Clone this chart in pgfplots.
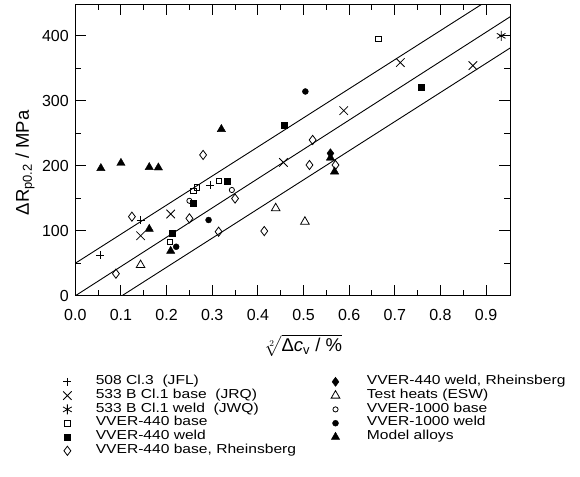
\documentclass[border=0pt]{standalone}
\usepackage{amsmath}
\usepackage{fontspec}
\setmainfont{Liberation Sans}
\newfontfamily\legendfont[FakeStretch=1.2]{Liberation Sans}
\usepackage{pgfplots}
\pgfplotsset{compat=1.18}
\begin{document}
\begin{tikzpicture}
\useasboundingbox (-75.3pt,-180.2pt) rectangle (504.7pt,295.8pt);
\begin{axis}[
  scale only axis, width=435pt, height=291.5pt,
  at={(0pt,0pt)}, anchor=south west,
  xmin=0, xmax=0.953, ymin=0, ymax=448,
  xtick={0,0.1,0.2,0.3,0.4,0.5,0.6,0.7,0.8,0.9},
  xticklabels={0.0,0.1,0.2,0.3,0.4,0.5,0.6,0.7,0.8,0.9},
  ytick={0,100,200,300,400},
  minor x tick num=1, minor y tick num=1,
  tick align=inside, major tick length=11pt, minor tick length=6pt,
  tick style={line width=1pt, black},
  axis line style={line width=1.2pt},
  /pgf/number format/assume math mode=true,
  tick label style={font=\fontsize{16}{16}\selectfont},
  xticklabel style={yshift=-10pt},
  yticklabel style={xshift=-3pt},
  xlabel={$\sqrt[\uproot{-3}2]{\mbox{Δ\textit{c}\textsubscript{v} / \%}}$},
  xlabel style={at={(axis description cs:0.524,-0.17)}, anchor=center, inner sep=0pt, font=\fontsize{18.5}{18.5}\selectfont},
  ylabel={ΔR\textsubscript{p0.2} / MPa},
  ylabel style={at={(axis description cs:-0.1157,0.456)}, anchor=center, font=\fontsize{18.5}{18.5}\selectfont},
  legend columns=2,
  legend cell align=left,
  legend image code/.code={\path (-5pt,0pt) (5pt,0pt); \draw[#1, only marks] plot coordinates {(0pt,0pt)};},
  legend style={draw=none, fill=none, inner sep=0pt, outer sep=0pt,
    at={(axis description cs:-0.0306,-0.2714)}, anchor=north west,
    font=\legendfont\fontsize{13}{13}\selectfont,
    nodes={inner sep=0pt, text height=9.6pt, text depth=4.2pt},
    column sep=0pt,
    /tikz/column 1/.style={column sep=23pt},
    /tikz/column 2/.style={column sep=34pt},
    /tikz/column 3/.style={column sep=26pt}},
]
\addplot[black, line width=0.9pt, forget plot] coordinates {(0,50) (0.953,476)};
\addplot[black, line width=0.9pt, forget plot] coordinates {(0,0) (0.953,429)};
\addplot[black, line width=0.9pt, forget plot] coordinates {(0.102,0) (0.953,381)};

\addplot[black, only marks, mark=+, mark size=4pt, line width=0.8pt] coordinates {(0.054,62.6) (0.143,116.5) (0.295,170.3)};
\addlegendentry{508 Cl.3\ \ (JFL)}
\addplot[black, only marks, mark=diamond*, mark size=4.6pt] coordinates {(0.559,219)};
\addlegendentry{VVER-440 weld, Rheinsberg}
\addplot[black, only marks, mark=x, mark size=6pt, line width=0.8pt] coordinates {(0.143,92.3) (0.209,125.7) (0.456,205) (0.588,284.6) (0.712,358.5) (0.871,353.8)};
\addlegendentry{533 B Cl.1 base\ \ (JRQ)}
\addplot[black, only marks, mark=triangle, mark size=5pt, line width=0.8pt] coordinates {(0.143,47.2) (0.439,134.5) (0.503,113.8)};
\addlegendentry{Test heats (ESW)}
\addplot[black, only marks, mark=asterisk, mark size=5pt, line width=0.8pt] coordinates {(0.933,399.5)};
\addlegendentry{533 B Cl.1 weld\ \ (JWQ)}
\addplot[black, only marks, mark=o, mark size=2.6pt, line width=0.8pt] coordinates {(0.250,146) (0.343,162.6)};
\addlegendentry{VVER-1000 base}
\addplot[black, only marks, mark=square, mark size=2.8pt, line width=0.8pt] coordinates {(0.207,82.6) (0.259,161.5) (0.266,166.8) (0.315,176.5) (0.664,395)};
\addlegendentry{VVER-440 base}
\addplot[black, only marks, mark=*, mark size=3pt] coordinates {(0.221,75.4) (0.292,116.5) (0.504,314)};
\addlegendentry{VVER-1000 weld}
\addplot[black, only marks, mark=square*, mark size=3pt] coordinates {(0.212,96) (0.259,142.5) (0.333,176.5) (0.458,261.5) (0.757,320.6)};
\addlegendentry{VVER-440 weld}
\addplot[black, only marks, mark=triangle*, mark size=4.8pt] coordinates {(0.056,196) (0.100,204) (0.162,197.5) (0.182,197) (0.162,102.6) (0.209,68.8) (0.320,256) (0.568,190.8) (0.559,212)};
\addlegendentry{Model alloys}
\addplot[black, only marks, mark=diamond, mark size=4.6pt, line width=0.8pt] coordinates {(0.089,34) (0.124,121.6) (0.250,119) (0.280,216.5) (0.314,98.5) (0.350,149.5) (0.414,99.5) (0.513,201) (0.520,239.5) (0.570,201)};
\addlegendentry{VVER-440 base, Rheinsberg}
\end{axis}
\end{tikzpicture}
\end{document}
